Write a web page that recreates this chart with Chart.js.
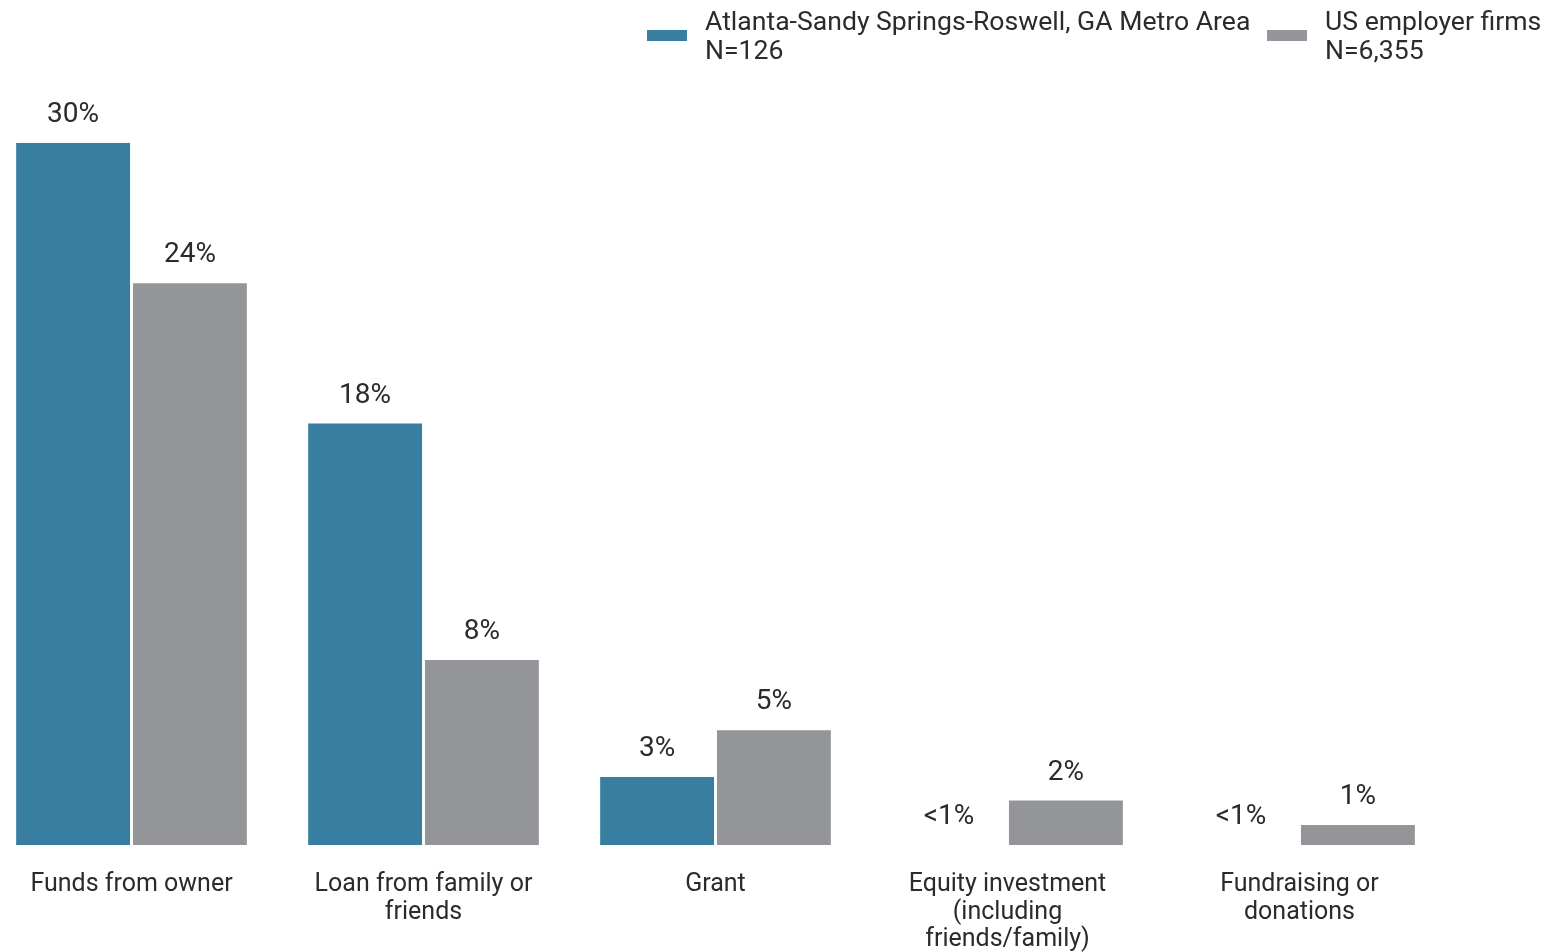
<!DOCTYPE html>
<html>
<head>
<meta charset="utf-8">
<script src="https://cdn.jsdelivr.net/npm/chart.js@4.4.1/dist/chart.umd.min.js"></script>
<style>
  html, body { margin: 0; padding: 0; background: #fff; }
  body { width: 1550px; height: 952px; position: relative; overflow: hidden; font-family: Roboto, sans-serif; color: #2b2b2b; }
  #wrap { position: absolute; left: -20px; top: 0; width: 1570px; height: 952px; }
  .legend-item { position: absolute; top: 7px; display: flex; align-items: center; }
  .legend-box { width: 40px; height: 11px; margin-right: 18px; }
  .legend-text { font-size: 26.6px; line-height: 28.5px; }
</style>
</head>
<body>
<div id="wrap"><canvas id="chart" width="1570" height="952"></canvas></div>
<div id="legend"></div>
<script>
/* DATA */
const categories = [
    "Funds from owner",
    ["Loan from family or", "friends"],
    "Grant",
    ["Equity investment", "(including", "friends/family)"],
    ["Fundraising or", "donations"]
];
const seriesNames = [
    ["Atlanta-Sandy Springs-Roswell, GA Metro Area", "N=126"],
    ["US employer firms", "N=6,355"]
];
const atlantaValues = [30, 18, 2.9, 0, 0];
const usValues = [24, 7.9, 4.9, 1.9, 0.85];
const atlantaLabels = ["30%", "18%", "3%", "<1%", "<1%"];
const usLabels = ["24%", "8%", "5%", "2%", "1%"];

const BLUE = "#387ea0";
const GRAY = "#939598";
const TEXT = "#2b2b2b";

/* VALUE LABELS ABOVE BARS */
const barLabels = {
    id: "barLabels",
    afterDatasetsDraw(chart) {
        const ctx = chart.ctx;
        ctx.save();
        ctx.font = "28px Roboto";
        ctx.fillStyle = TEXT;
        ctx.textAlign = "center";
        ctx.textBaseline = "middle";
        chart.data.datasets.forEach((ds, i) => {
            chart.getDatasetMeta(i).data.forEach((bar, j) => {
                ctx.fillText(ds.valueLabels[j], bar.x, bar.y - 28);
            });
        });
        ctx.restore();
    }
};

/* CHART */
const chart = new Chart(document.getElementById("chart"), {
    type: "bar",
    data: {
        labels: categories,
        datasets: [{
            label: seriesNames[0].join(" "),
            data: atlantaValues,
            valueLabels: atlantaLabels,
            backgroundColor: BLUE
        }, {
            label: seriesNames[1].join(" "),
            data: usValues,
            valueLabels: usLabels,
            backgroundColor: GRAY
        }]
    },
    options: {
        responsive: false,
        animation: false,
        devicePixelRatio: 1,
        layout: { padding: { left: 5.5, right: 104.5, top: 142.7, bottom: 0 } },
        categoryPercentage: 0.8,
        barPercentage: 0.975,
        plugins: {
            legend: { display: false },
            tooltip: { enabled: false }
        },
        scales: {
            x: {
                grid: { display: false, drawTicks: false },
                border: { display: false },
                ticks: {
                    color: TEXT,
                    padding: 26,
                    maxRotation: 0,
                    autoSkip: false,
                    font: { family: "Roboto", size: 25, lineHeight: 1.1 }
                },
                afterFit: s => { s.height = 107; }
            },
            y: {
                display: false,
                min: 0,
                max: 30
            }
        }
    },
    plugins: [barLabels]
});

/* LEGEND */
const legend = document.getElementById("legend");
const legendLeft = [647, 1267];
[BLUE, GRAY].forEach((c, i) => {
    const item = document.createElement("div");
    item.className = "legend-item";
    item.style.left = legendLeft[i] + "px";
    item.innerHTML = '<div class="legend-box" style="background:' + c + '"></div>' +
        '<div class="legend-text">' + seriesNames[i].join("<br>") + '</div>';
    legend.appendChild(item);
});
</script>
</body>
</html>
